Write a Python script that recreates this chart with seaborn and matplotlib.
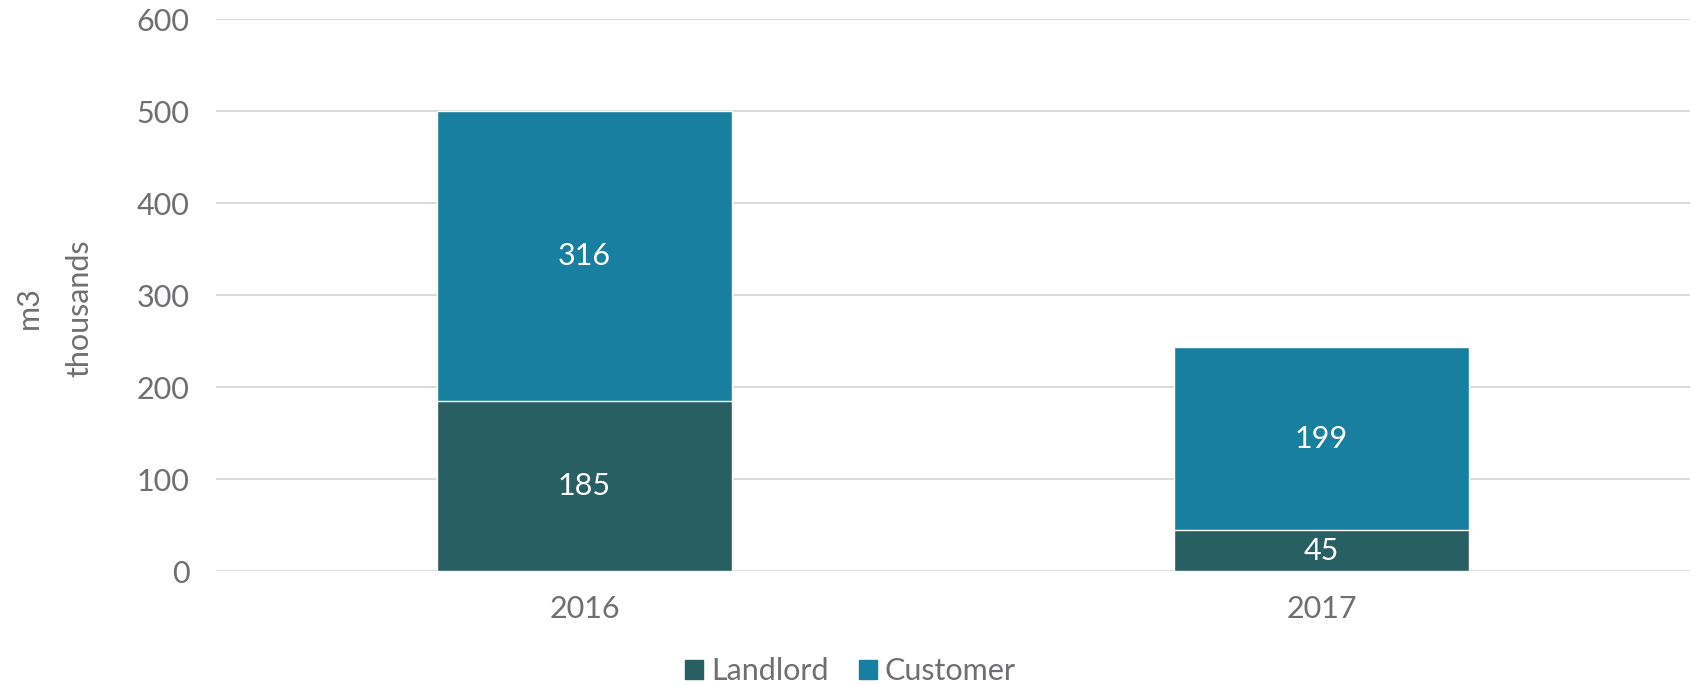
import pandas as pd
import matplotlib
matplotlib.use('Agg')
import matplotlib.pyplot as plt
import seaborn as sns
from matplotlib.patches import Patch

# values (m3 thousands)
years = ['2016', '2017']
landlord = [185, 45]
customer = [316, 199]

df = pd.DataFrame({'year': years, 'Landlord': landlord, 'Customer': customer})
df['total'] = df['Landlord'] + df['Customer']

landlord_color = '#285F63'
customer_color = '#187FA0'
text_color = '#6E6E73'
grid_color = '#D9D9D9'
fs = 22

sns.set_style('white')
plt.rcParams['font.family'] = ['Lato', 'DejaVu Sans']

fig = plt.figure(figsize=(16.94, 6.84), dpi=100)
ax = fig.add_axes([0.1275, 0.1645, 0.8701, 0.807])

# stacked bars: full height in customer colour, landlord drawn over it
sns.barplot(data=df, x='year', y='total', color=customer_color, width=0.4,
            saturation=1, ax=ax, zorder=2)
sns.barplot(data=df, x='year', y='Landlord', color=landlord_color, width=0.4,
            saturation=1, ax=ax, zorder=3)

# data labels in the middle of each segment
for i, row in df.iterrows():
    ax.text(i, row['Landlord'] / 2, str(row['Landlord']), ha='center', va='center',
            color='white', fontsize=fs, zorder=4)
    ax.text(i, row['Landlord'] + row['Customer'] / 2, str(row['Customer']),
            ha='center', va='center', color='white', fontsize=fs, zorder=4)

ax.set_xlim(-0.5, 1.5)
ax.set_ylim(0, 600)
ax.set_yticks(range(0, 601, 100))
ax.yaxis.grid(True, color=grid_color, linewidth=1.3, zorder=0)
ax.set_axisbelow(True)
for s in ax.spines.values():
    s.set_visible(False)
ax.tick_params(axis='y', length=0, pad=19, labelsize=fs, labelcolor=text_color)
ax.tick_params(axis='x', length=0, pad=17, labelsize=fs, labelcolor=text_color)
ax.set_xlabel('')
ax.set_ylabel('')
fig.text(0.032, 0.55, 'm3\nthousands', rotation=90, ha='center', va='center',
         fontsize=fs, color=text_color, linespacing=2.0)

handles = [Patch(color=landlord_color, label='Landlord'),
           Patch(color=customer_color, label='Customer')]
fig.legend(handles=handles, loc='center', bbox_to_anchor=(0.502, 0.019), ncol=2,
           frameon=False, fontsize=fs, labelcolor=text_color, handlelength=0.6,
           handleheight=0.6, handletextpad=0.25, columnspacing=1.0)

fig.savefig('out.png', dpi=100)
